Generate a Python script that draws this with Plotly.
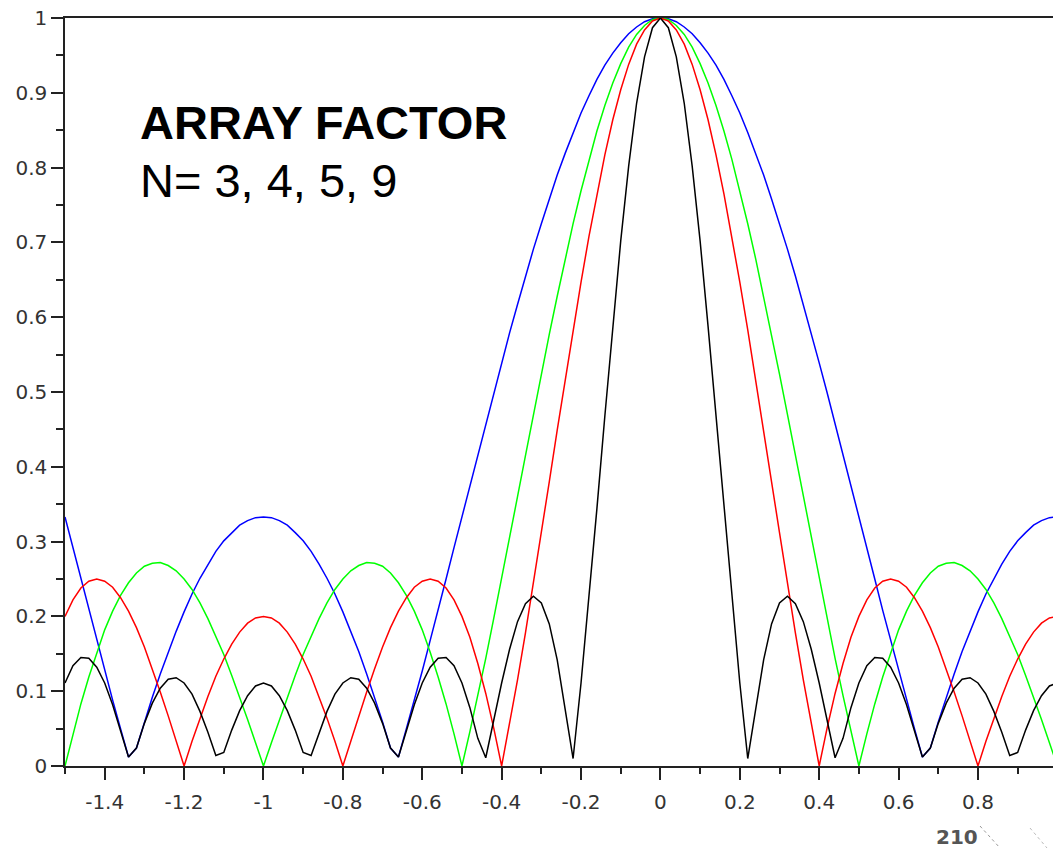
import plotly.graph_objects as go

# sample positions (u)
x_vals = [-1.50, -1.48, -1.46, -1.44, -1.42, -1.40, -1.38, -1.36, -1.34, -1.32,
          -1.30, -1.28, -1.26, -1.24, -1.22, -1.20, -1.18, -1.16, -1.14, -1.12,
          -1.10, -1.08, -1.06, -1.04, -1.02, -1.00, -0.98, -0.96, -0.94, -0.92,
          -0.90, -0.88, -0.86, -0.84, -0.82, -0.80, -0.78, -0.76, -0.74, -0.72,
          -0.70, -0.68, -0.66, -0.64, -0.62, -0.60, -0.58, -0.56, -0.54, -0.52,
          -0.50, -0.48, -0.46, -0.44, -0.42, -0.40, -0.38, -0.36, -0.34, -0.32,
          -0.30, -0.28, -0.26, -0.24, -0.22, -0.20, -0.18, -0.16, -0.14, -0.12,
          -0.10, -0.08, -0.06, -0.04, -0.02, 0.00, 0.02, 0.04, 0.06, 0.08,
          0.10, 0.12, 0.14, 0.16, 0.18, 0.20, 0.22, 0.24, 0.26, 0.28,
          0.30, 0.32, 0.34, 0.36, 0.38, 0.40, 0.42, 0.44, 0.46, 0.48,
          0.50, 0.52, 0.54, 0.56, 0.58, 0.60, 0.62, 0.64, 0.66, 0.68,
          0.70, 0.72, 0.74, 0.76, 0.78, 0.80, 0.82, 0.84, 0.86, 0.88,
          0.90, 0.92, 0.94, 0.96, 0.98, 1.00]

# N = 3 (blue)
af_n3 = [.333, .292, .250, .208, .168, .127, .088, .050, .012, .024, .059, .092, .123,
         .153, .180, .206, .230, .251, .270, .287, .301, .312, .322, .328, .332, .333,
         .332, .328, .322, .312, .301, .287, .270, .251, .230, .206, .180, .153, .123,
         .092, .059, .024, .012, .050, .088, .127, .168, .208, .250, .292, .333, .375,
         .417, .458, .499, .539, .579, .617, .655, .691, .725, .758, .790, .819, .847,
         .873, .896, .918, .937, .953, .967, .979, .988, .995, .999, 1.0,
         .999, .995, .988, .979, .967, .953, .937, .918, .896, .873, .847, .819, .790,
         .758, .725, .691, .655, .617, .579, .539, .499, .458, .417, .375, .333, .292,
         .250, .208, .168, .127, .088, .050, .012, .024, .059, .092, .123, .153, .180,
         .206, .230, .251, .270, .287, .301, .312, .322, .328, .332, .333]

# N = 4 (green)
af_n4 = [0.0, .043, .083, .119, .152, .182, .207, .228, .245, .258, .267, .271, .272,
         .268, .261, .250, .236, .218, .197, .174, .149, .121, .092, .062, .031, 0.0,
         .031, .062, .092, .121, .149, .174, .197, .218, .236, .250, .261, .268, .272,
         .271, .267, .258, .245, .228, .207, .182, .152, .119, .083, .043, 0.0, .046,
         .094, .144, .197, .250, .305, .360, .415, .470, .524, .577, .628, .678, .725,
         .769, .811, .849, .883, .913, .939, .961, .978, .990, .998, 1.0,
         .998, .990, .978, .961, .939, .913, .883, .849, .811, .769, .725, .678, .628,
         .577, .524, .470, .415, .360, .305, .250, .197, .144, .094, .046, 0.0, .043,
         .083, .119, .152, .182, .207, .228, .245, .258, .267, .271, .272, .268, .261,
         .250, .236, .218, .197, .174, .149, .121, .092, .062, .031, 0.0]

# N = 5 (red)
af_n5 = [.200, .222, .238, .247, .250, .247, .239, .225, .207, .185, .159, .130, .099,
         .067, .033, 0.0, .033, .064, .093, .120, .143, .163, .179, .191, .198, .200,
         .198, .191, .179, .163, .143, .120, .093, .064, .033, 0.0, .033, .067, .099,
         .130, .159, .185, .207, .225, .239, .247, .250, .247, .238, .222, .200, .172,
         .137, .097, .051, 0.0, .056, .115, .178, .244, .312, .380, .449, .517, .583,
         .647, .708, .765, .817, .864, .904, .938, .965, .984, .996, 1.0,
         .996, .984, .965, .938, .904, .864, .817, .765, .708, .647, .583, .517, .449,
         .380, .312, .244, .178, .115, .056, 0.0, .051, .097, .137, .172, .200, .222,
         .238, .247, .250, .247, .239, .225, .207, .185, .159, .130, .099, .067, .033,
         0.0, .033, .064, .093, .120, .143, .163, .179, .191, .198, .200]

# N = 9 (black)
af_n9 = [.111, .134, .145, .144, .132, .111, .082, .048, .012, .024, .057, .084, .104,
         .116, .118, .111, .096, .073, .045, .014, .018, .048, .074, .094, .107, .111,
         .107, .094, .074, .048, .018, .014, .045, .073, .096, .111, .118, .116, .104,
         .084, .057, .024, .012, .048, .082, .111, .132, .144, .145, .134, .111, .078,
         .037, .011, .061, .111, .156, .193, .217, .227, .218, .190, .142, .075, .010,
         .111, .224, .344, .468, .588, .702, .802, .886, .948, .987, 1.0,
         .987, .948, .886, .802, .702, .588, .468, .344, .224, .111, .010, .075, .142,
         .190, .218, .227, .217, .193, .156, .111, .061, .011, .037, .078, .111, .134,
         .145, .144, .132, .111, .082, .048, .012, .024, .057, .084, .104, .116, .118,
         .111, .096, .073, .045, .014, .018, .048, .074, .094, .107, .111]

series_names = ["N=3", "N=4", "N=5", "N=9"]
series_values = [af_n3, af_n4, af_n5, af_n9]
series_colors = ["#0000ff", "#00ff00", "#ff0000", "#000000"]

x_tick_vals = [-1.4, -1.2, -1.0, -0.8, -0.6, -0.4, -0.2, 0.0, 0.2, 0.4, 0.6, 0.8]
x_tick_text = ["-1.4", "-1.2", "-1", "-0.8", "-0.6", "-0.4", "-0.2", "0", "0.2", "0.4", "0.6", "0.8"]
y_tick_vals = [0.0, 0.1, 0.2, 0.3, 0.4, 0.5, 0.6, 0.7, 0.8, 0.9, 1.0]
y_tick_text = ["0", "0.1", "0.2", "0.3", "0.4", "0.5", "0.6", "0.7", "0.8", "0.9", "1"]

title_line1 = "ARRAY FACTOR"
title_line2 = "N= 3, 4, 5, 9"
page_number = "210"

fig = go.Figure()
for name, vals, col in zip(series_names, series_values, series_colors):
    fig.add_trace(go.Scatter(x=x_vals, y=vals, mode="lines", name=name,
                             line=dict(color=col, width=1.5)))

axis_col = "#222222"
tick_font = dict(family="DejaVu Sans", size=20, color="#333333")

# plot area: left 65, right 1053, top 18, bottom 766 (px)
PL, PR, PT, PB = 65, 1053, 18, 766

fig.update_layout(
    width=1053, height=850,
    margin=dict(l=PL, r=1053 - PR, t=PT, b=850 - PB),
    paper_bgcolor="white", plot_bgcolor="white",
    showlegend=False,
    xaxis=dict(range=[-1.5, 0.989], showgrid=False, zeroline=False,
               showline=True, linecolor=axis_col, linewidth=1.5, mirror=True,
               tickmode="array", tickvals=x_tick_vals, ticktext=x_tick_text,
               ticks="outside", ticklen=12, tickwidth=1.5, tickcolor=axis_col,
               tickfont=tick_font, ticklabelstandoff=5,
               minor=dict(ticks="outside", ticklen=6, tickwidth=1.5,
                          tickcolor=axis_col, dtick=0.1, tick0=0, showgrid=False)),
    yaxis=dict(range=[0, 1], showgrid=False, zeroline=False,
               showline=True, linecolor=axis_col, linewidth=1.5,
               tickmode="array", tickvals=y_tick_vals, ticktext=y_tick_text,
               ticks="outside", ticklen=12, tickwidth=1.5, tickcolor=axis_col,
               tickfont=tick_font, ticklabelstandoff=0,
               minor=dict(ticks="outside", ticklen=7, tickwidth=1.5,
                          tickcolor=axis_col, dtick=0.05, tick0=0, showgrid=False)),
)


def px_to_paper(px, py):
    return (px - PL) / (PR - PL), (PB - py) / (PB - PT)


fig.add_annotation(x=-1.315, y=0.860, xref="x", yref="y", xanchor="left", yanchor="middle",
                   text="<b>" + title_line1 + "</b>", showarrow=False,
                   font=dict(family="Liberation Sans", size=47, color="black"))
fig.add_annotation(x=-1.315, y=0.783, xref="x", yref="y", xanchor="left", yanchor="middle",
                   text=title_line2, showarrow=False,
                   font=dict(family="Liberation Sans", size=47, color="black"))

px_, py_ = px_to_paper(957, 837)
fig.add_annotation(x=px_, y=py_, xref="paper", yref="paper",
                   xanchor="center", yanchor="middle", text="<b>" + page_number + "</b>",
                   showarrow=False, font=dict(family="DejaVu Sans", size=20, color="#555555"))
for (ax0, ay0, ax1, ay1, c) in [(980, 826, 1000, 848, "#999999"), (1030, 828, 1047, 848, "#bbbbbb")]:
    x0, y0 = px_to_paper(ax0, ay0)
    x1, y1 = px_to_paper(ax1, ay1)
    fig.add_shape(type="line", xref="paper", yref="paper", x0=x0, y0=y0, x1=x1, y1=y1,
                  line=dict(color=c, width=1, dash="dot"))

fig.write_html("out.html", config={"displayModeBar": False},
               post_script="document.body.style.margin='0';")
